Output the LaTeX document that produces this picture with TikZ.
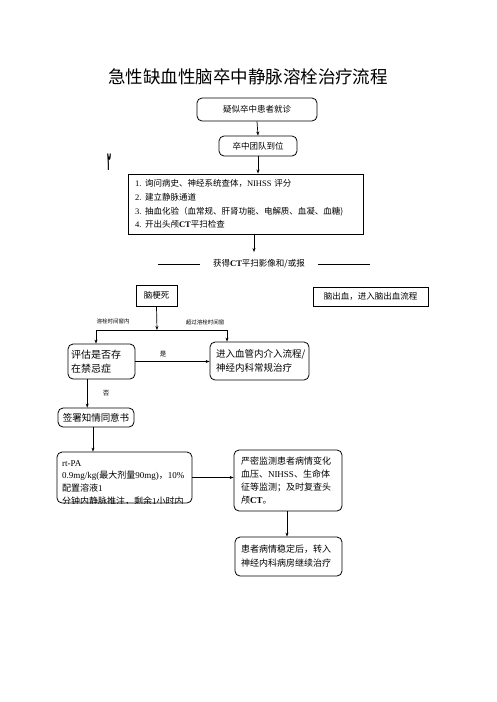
\documentclass[tikz,border=0pt]{standalone}
\usepackage{fontspec}
\setmainfont{Noto Sans CJK SC}
\newfontfamily\lat{Liberation Serif}
\newfontfamily\arab[Script=Arabic]{DejaVu Sans}
\TeXXeTstate=1
\usetikzlibrary{arrows.meta}
\tikzset{
  rbox/.style={draw, rounded corners=5pt, line width=0.8pt, inner sep=0pt},
  sbox/.style={draw, line width=0.9pt, inner sep=0pt},
  arr/.style={-{Stealth[length=4pt,width=3pt]}, line width=0.7pt},
  ln/.style={line width=0.7pt},
  small/.style={font=\fontsize{5.5}{6}\selectfont},
  txt/.style={font=\fontsize{8.5}{10}\selectfont},
}
\newcommand{\numi}[1]{\makebox[10pt][l]{\lat #1}}
\begin{document}
\begin{tikzpicture}[x=1pt,y=-1pt]
\useasboundingbox (0,0) rectangle (496,702);
\node (title) at (248,77) {\fontsize{17.5}{20}\selectfont 急性缺血性脑卒中静脉溶栓治疗流程};
\node (mark) at (109,162) {\scalebox{0.32}[1.3]{\arab\bfseries\fontsize{20}{22}\selectfont\beginR ٢\endR}};

\node[rbox, txt, minimum width=120pt, minimum height=23pt] (b1) at (257,109.5) {疑似卒中患者就诊};
\node[rbox, txt, minimum width=78pt, minimum height=20pt] (b2) at (258,146) {卒中团队到位};
\node[sbox, minimum width=235pt, minimum height=60pt, text width=221pt, align=left,
      font=\fontsize{8.5}{13.6}\selectfont] (b3) at (245.5,204)
  {\numi{1.}询问病史、神经系统查体，{\lat NIHSS} 评分\\
   \numi{2.}建立静脉通道\\
   \numi{3.}抽血化验（血常规、肝肾功能、电解质、血凝、血糖)\\
   \numi{4.}开出头颅{\lat\bfseries CT}平扫检查};
\node[txt] (ct) at (259,264) {获得{\lat\bfseries CT}平扫影像和/或报};
\coordinate (ctin) at (254,252);
\coordinate (l1) at (158,264); \coordinate (l2) at (200,264);
\coordinate (r1) at (318,264); \coordinate (r2) at (370,264);

\node[sbox, txt, minimum width=41pt, minimum height=21pt] (inf) at (156.5,295.5) {脑梗死};
\node[sbox, txt, minimum width=115pt, minimum height=19pt] (hem) at (370.5,296.5) {脑出血，进入脑出血流程};
\coordinate (j) at (157,330); \coordinate (jl) at (96,330); \coordinate (jr) at (227,330);
\node[small] (lab1) at (113,321) {溶栓时间窗内};
\node[small] (lab2) at (205,322) {超过溶栓时间窗};

\node[rbox, minimum width=67pt, minimum height=35pt, text width=61pt, align=left,
      font=\fontsize{10}{14}\selectfont] (ev) at (101.5,361.5) {评估是否存\\在禁忌症};
\node[rbox, minimum width=99pt, minimum height=38pt, text width=87pt, align=left,
      font=\fontsize{9.5}{14}\selectfont] (ivt) at (259.5,361) {进入血管内介入流程/\\神经内科常规治疗};
\node[small, font=\fontsize{6.5}{7}\selectfont] (yes) at (163,354) {是};
\node[small, font=\fontsize{6.5}{7}\selectfont] (no) at (106,393) {否};
\node[rbox, minimum width=76pt, minimum height=19pt, font=\fontsize{9.5}{11}\selectfont] (sign) at (96,417.5) {签署知情同意书};

\node[rbox, minimum width=135pt, minimum height=51pt] (rt) at (124.5,477.5) {};
\begin{scope}
  \clip[rounded corners=5pt] (rt.south west) rectangle (rt.north east);
  \node[anchor=north west, align=left, inner sep=0pt, font=\fontsize{9}{12.7}\selectfont] (rttext) at (62,460)
   {{\lat rt-PA}\\
    {\lat 0.9mg/kg(}最大剂量{\lat 90mg)}，{\lat 10\%}\\
    配置溶液{\lat 1}\\
    分钟内静脉推注，剩余{\lat 1}小时内};
\end{scope}
\node[rbox, minimum width=108pt, minimum height=61pt, text width=94pt, align=left,
      font=\fontsize{9}{12.7}\selectfont] (mon) at (288,480.5)
  {严密监测患者病情变化\\血压、{\lat NIHSS}、生命体\\征等监测；及时复查头\\颅{\lat\bfseries CT}。};
\node[rbox, minimum width=107pt, minimum height=39pt, text width=95pt, align=left,
      font=\fontsize{9}{14}\selectfont] (st) at (288.5,556.5)
  {患者病情稳定后，转入\\神经内科病房继续治疗};

\draw[arr] (b1.south) -- (b2.north);
\draw[arr] (b2.south) -- (b2.south |- b3.north);
\draw[arr] (ctin |- b3.south) -- (ctin);
\draw[ln] (l1) -- (l2);
\draw[ln] (r1) -- (r2);
\draw[arr] (inf.south) -- (j);
\draw[ln] (jl) -- (jr);
\draw[arr] (jl) -- (jl |- ev.north);
\draw[arr] (jr) -- (jr |- ivt.north);
\draw[arr] (ev.east) -- (ev.east -| ivt.west);
\draw[arr] (no.west |- ev.south) ++(-12,0) coordinate (evs) -- (evs |- sign.north);
\draw[arr] (sign.south) ++(-3,0) coordinate (sgs) -- (sgs |- rt.north);
\draw[arr] (rt.east) -- (rt.east -| mon.west);
\draw[arr] (mon.south) ++(-1,0) coordinate (ms) -- (ms |- st.north);
\end{tikzpicture}
\end{document}
